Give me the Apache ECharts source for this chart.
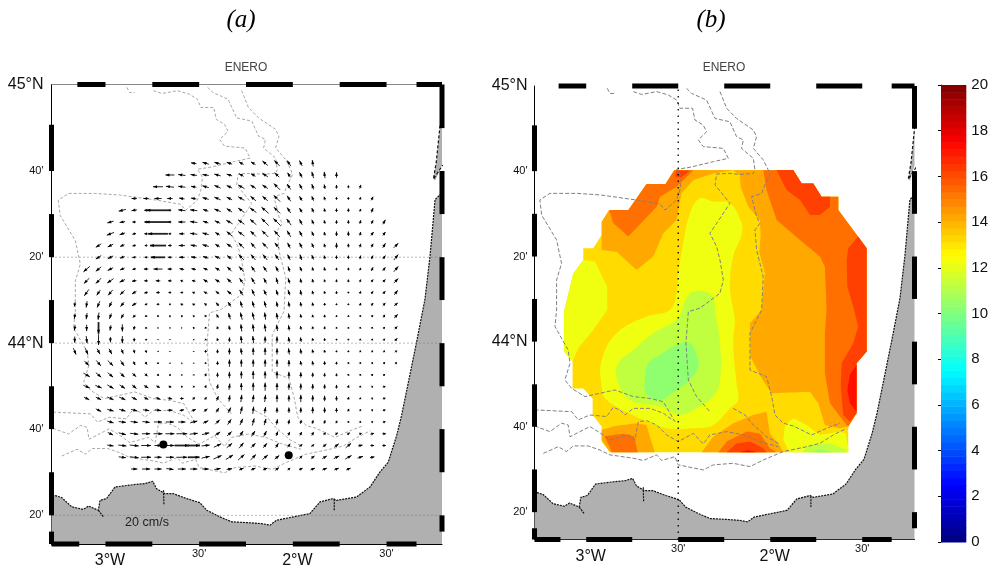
<!DOCTYPE html>
<html><head><meta charset="utf-8">
<script src="https://cdn.jsdelivr.net/npm/echarts@6/dist/echarts.min.js"></script>
<style>html,body{margin:0;padding:0;background:#fff}#c{width:991px;height:569px}</style>
</head><body><div id="c"></div>
<script>
// Axis ticks
const lonTicks=[-3,-2.5,-2,-1.5];
const lonTickLabels=['3°W',"30'",'2°W',"30'"];
const latTicks=[45,44.667,44.333,44,43.667,43.333];
const latTickLabels=['45°N',"40'","20'",'44°N',"40'","20'"];
const colorbarTicks=[0,2,4,6,8,10,12,14,16,18,20];
// Frame bars
const topBars=[[-3.15,-3],[-2.75,-2.5],[-2.25,-2],[-1.75,-1.5],[-1.34,-1.2]];
const bottomBars=[[-3.3,-3.14],[-3,-2.75],[-2.5,-2.25],[-2,-1.75],[-1.5,-1.34]];
const leftBars=[[44.846,44.667],[44.5,44.333],[44.167,44],[43.833,43.667],[43.5,43.333],[43.27,43.2]];
const rightBars=[[45.01,44.833],[44.667,44.5],[44.333,44.167],[44,43.833],[43.667,43.5],[43.333,43.27]];
// Land
const coastMain=[[-3.3,43.411],[-3.275,43.411],[-3.234,43.402],[-3.18,43.366],[-3.118,43.356],[-3.091,43.369],[-3.038,43.353],[-3.029,43.391],[-2.994,43.398],[-2.949,43.443],[-2.851,43.452],[-2.789,43.456],[-2.748,43.465],[-2.727,43.436],[-2.682,43.417],[-2.638,43.417],[-2.567,43.398],[-2.496,43.382],[-2.46,43.353],[-2.389,43.327],[-2.327,43.308],[-2.247,43.305],[-2.167,43.301],[-2.122,43.295],[-2.087,43.314],[-1.998,43.327],[-1.909,43.34],[-1.855,43.385],[-1.784,43.398],[-1.766,43.391],[-1.66,43.404],[-1.588,43.443],[-1.535,43.501],[-1.491,43.539],[-1.446,43.642],[-1.42,43.719],[-1.34,44.003],[-1.295,44.17],[-1.268,44.337],[-1.241,44.556],[-1.2,44.585]];
const coastSliver=[[-1.2,44.86],[-1.215,44.839],[-1.235,44.7],[-1.25,44.635],[-1.24,44.63],[-1.2,44.69]];
const coastInlets=[[[-3.038,43.353],[-3.011,43.327]],[[-2.69,43.43],[-2.688,43.372]],[[-1.779,43.395],[-1.779,43.353]]];
const southwestCorner=[[-1.2,43.2],[-3.3,43.2]];
// Isobaths
const isobaths=[
[[-2.886,44.991],[-2.871,44.971],[-2.844,44.971]],
[[-2.744,44.978],[-2.699,44.967],[-2.617,44.978],[-2.554,44.965],[-2.509,44.945],[-2.491,44.913],[-2.422,44.913],[-2.409,44.867],[-2.364,44.847],[-2.346,44.821],[-2.391,44.789],[-2.364,44.763],[-2.255,44.756],[-2.228,44.717],[-2.309,44.704],[-2.436,44.682],[-2.509,44.674],[-2.482,44.643],[-2.491,44.593],[-2.509,44.554],[-2.572,44.515],[-2.599,44.538],[-2.726,44.554],[-2.925,44.574],[-3.052,44.58],[-3.197,44.58],[-3.252,44.554],[-3.242,44.495],[-3.161,44.398],[-3.134,44.306],[-3.161,44.241],[-3.161,44.124],[-3.17,44.059],[-3.098,43.967],[-3.088,43.915],[-3.116,43.85],[-3.079,43.817],[-3.007,43.785],[-2.844,43.811],[-2.744,43.785],[-2.654,43.778],[-2.581,43.765],[-2.518,43.687]],
[[-2.273,44.978],[-2.237,44.913],[-2.183,44.873],[-2.092,44.828],[-2.074,44.802],[-2.092,44.756],[-2.038,44.711],[-2.011,44.672],[-2.002,44.652],[-2.029,44.613],[-2.047,44.58],[-2.101,44.567],[-2.074,44.489],[-2.056,44.463],[-2.083,44.437],[-2.074,44.358],[-2.038,44.254],[-2.047,44.124],[-2.11,44.033],[-2.11,43.889],[-2.02,43.863],[-1.992,43.785],[-1.974,43.713],[-1.929,43.681],[-1.875,43.67],[-1.775,43.635],[-1.694,43.661],[-1.621,43.681]],
[[-2.455,44.991],[-2.427,44.971],[-2.346,44.945],[-2.3,44.873],[-2.219,44.86],[-2.183,44.802],[-2.146,44.789],[-2.156,44.756],[-2.092,44.717],[-2.083,44.672],[-2.092,44.658],[-2.165,44.654],[-2.219,44.658],[-2.291,44.656],[-2.3,44.613],[-2.219,44.541],[-2.291,44.463],[-2.328,44.424],[-2.291,44.371],[-2.273,44.319],[-2.255,44.241],[-2.273,44.189],[-2.382,44.131],[-2.445,44.117],[-2.458,43.994],[-2.445,43.85],[-2.4,43.785],[-2.328,43.726]],
[[-3.28,43.733],[-3.079,43.726],[-3.043,43.694],[-2.98,43.713],[-2.889,43.707],[-2.853,43.743],[-2.817,43.733],[-2.79,43.713],[-2.744,43.739],[-2.654,43.739],[-2.581,43.72],[-2.527,43.691]],
[[-3.28,43.67],[-3.197,43.648],[-3.134,43.681],[-3.098,43.674],[-3.088,43.628],[-3.034,43.648],[-2.98,43.668],[-2.907,43.635],[-2.871,43.615],[-2.771,43.635],[-2.735,43.615],[-2.717,43.687],[-2.672,43.691],[-2.617,43.674],[-2.563,43.635],[-2.5,43.609],[-2.418,43.641],[-2.364,43.6],[-2.328,43.635],[-2.237,43.648],[-2.146,43.635],[-2.056,43.609],[-1.956,43.589]],
[[-3.233,43.563],[-3.152,43.589],[-3.107,43.57],[-3.07,43.592],[-2.989,43.592],[-2.925,43.576],[-2.871,43.557],[-2.744,43.544],[-2.69,43.535],[-2.617,43.557],[-2.59,43.535],[-2.518,43.55],[-2.5,43.518],[-2.364,43.498],[-2.309,43.518],[-2.201,43.524],[-2.11,43.511],[-2.038,43.537],[-1.929,43.57],[-1.802,43.589],[-1.73,43.602],[-1.657,43.635],[-1.585,43.661]],
[[-2.201,43.739],[-2.137,43.713],[-2.092,43.674],[-2.02,43.628],[-1.956,43.602]]
];
// Panel (a): mooring dots
const moorings=[[-2.691,43.607],[-2.022,43.566]];
const gridLatsA=[44.333,44,43.333];
const gridLonsB=[-2.5];
// Panel (a): current vectors. Each row is u,v,u,v... in cm/s; start column per row.
const arrowLonStart=-3.164, arrowLonStep=0.0635, arrowLatStart=44.697, arrowLatStep=0.04556;
const arrowRowStart=[10,8,7,5,4,3,3,2,2,1,1,1,0,0,0,0,0,1,1,1,1,2,3,3,3,4,5];
const arrowRows=[
[-6,1,-7,2,-7,2,-6,2,-5,3,-5,3,-6,5,-6,6,-4,6,-3,6,-1,7],
[-10,0,-8,1,-7,1,-7,1,-7,2,-6,2,-5,3,-5,3,-6,4,-5,5,-3,5,-3,6,-2,7,-1,7,0,6],
[-11,0,-9,1,-8,1,-6,1,-7,2,-7,3,-6,3,-7,4,-6,4,-6,4,-7,7,-4,6,-3,6,-2,6,-1,5,0,4,0,3,1,4],
[-6,0,-6,0,-8,0,-6,0,-6,1,-6,1,-7,2,-7,3,-6,3,-7,4,-6,5,-6,5,-7,7,-4,6,-3,5,-2,5,-1,4,0,3,0,3,1,3,2,4],
[-8,-2,-6,-1,-4,0,-26,0,-3,0,-8,1,-8,1,-6,2,-7,3,-6,4,-7,5,-7,5,-8,7,-7,7,-4,6,-3,5,-2,5,-1,4,0,4,0,4,1,3,2,5],
[-7,-2,-6,-1,-4,0,-4,0,-28,0,-3,0,-8,0,-8,1,-6,2,-6,3,-7,4,-7,5,-7,6,-8,8,-8,8,-5,7,-3,6,-2,5,-1,4,0,4,0,4,1,4,2,4,3,5],
[-8,-3,-6,-2,-4,-1,-4,0,-22,0,-3,0,-6,0,-8,1,-7,2,-5,3,-6,5,-7,5,-6,6,-7,7,-6,7,-4,7,-3,6,-2,5,-1,4,0,5,0,5,1,4,3,4,3,4],
[-6,-4,-6,-3,-5,-2,-4,-1,-3,0,-18,0,-4,0,-7,0,-7,1,-7,2,-5,3,-6,4,-6,6,-5,6,-6,6,-5,6,-3,6,-3,6,-2,5,-1,4,0,6,0,4,1,4,2,4,3,5,5,5],
[-6,-4,-6,-3,-5,-2,-4,-1,-3,0,-16,0,-4,0,-6,0,-6,1,-6,2,-6,3,-5,4,-6,6,-5,6,-5,6,-4,6,-3,6,-2,6,-2,5,-1,4,0,4,0,4,1,4,2,4,3,4,5,6],
[-7,-6,-6,-5,-6,-3,-5,-2,-4,-1,-5,0,-10,0,-5,0,-5,1,-5,1,-5,2,-5,3,-5,5,-5,6,-4,6,-4,6,-3,6,-2,6,-2,5,-1,4,-1,4,0,3,0,3,1,3,2,4,3,4,5,6],
[-6,-6,-6,-6,-7,-5,-6,-3,-5,-1,-4,0,-5,0,-4,0,-3,1,-4,1,-5,3,-5,3,-5,5,-4,6,-4,7,-3,6,-2,7,-2,6,-1,5,-1,4,-1,3,0,3,0,3,1,3,2,3,3,3,5,5],
[-5,-7,-4,-6,-5,-6,-5,-5,-5,-3,-4,-1,-4,0,-3,0,-3,0,-3,1,-4,2,-4,3,-5,4,-4,6,-3,7,-3,6,-2,6,-2,6,-1,6,-1,4,-1,3,0,3,0,2,1,3,2,3,3,3,4,5],
[-1,-5,-1,-7,-3,-7,-3,-6,-4,-5,-5,-3,-3,-1,-3,0,-2,0,-3,1,-3,1,-3,2,-3,4,-3,5,-2,7,-2,7,-2,7,-1,6,-1,6,-1,5,-1,4,0,3,0,2,0,2,1,3,2,3,3,3,4,3],
[-1,-6,-1,-7,-1,-8,-2,-6,-3,-5,-3,-3,-2,-2,-2,-1,-2,0,-2,1,-2,1,-2,2,-2,4,-2,7,-2,8,-2,8,-1,8,-1,7,-1,6,-1,4,-1,3,0,3,0,2,0,2,1,2,2,2,2,3,4,4],
[-1,-6,0,-7,0,-13,-1,-6,0,-8,-1,-4,-1,-2,-1,-1,-1,-1,-1,0,-2,1,-1,2,-1,3,-1,5,-1,8,-1,8,-1,8,-1,7,-1,6,-1,4,-1,3,0,3,0,2,0,2,1,2,1,2,2,2,3,3],
[0,-7,1,-8,0,-12,0,-6,0,-8,0,-4,0,-2,0,-1,0,-1,0,0,-1,1,-1,2,-1,3,0,5,-1,8,-1,8,0,7,0,7,-1,6,-1,5,-1,3,0,3,0,2,0,2,1,2,1,2,2,2,3,3],
[3,-7,3,-7,3,-6,3,-6,2,-5,1,-4,1,-3,1,-1,0,-1,0,0,0,1,0,3,0,4,0,7,-1,7,0,8,0,8,0,7,-1,7,-1,6,-1,4,-1,3,0,2,0,2,1,2,1,2,1,2,2,2],
[5,-5,5,-6,6,-6,4,-6,2,-4,2,-3,1,-2,1,-1,1,0,0,1,0,2,0,4,0,8,0,8,0,8,0,8,0,8,0,7,-1,5,-1,5,0,4,0,3,1,2,1,2,1,2,2,2,2,2],
[7,-4,6,-5,6,-5,5,-5,4,-4,3,-3,2,-2,2,-1,1,-1,1,1,1,3,0,5,0,7,0,8,0,9,0,8,0,8,0,7,0,6,0,5,0,4,0,3,1,2,1,2,2,2,2,2],
[7,-3,7,-3,7,-4,6,-4,5,-4,5,-3,4,-2,3,-1,2,0,2,1,1,3,1,5,1,7,0,8,0,9,0,9,0,8,0,7,0,7,0,6,0,5,0,4,1,3,1,2,2,1,3,1],
[6,-3,6,-3,7,-3,7,-3,6,-3,5,-2,5,-2,5,-1,4,0,3,2,2,3,2,5,1,7,1,8,1,8,1,8,0,8,0,7,0,8,0,7,0,6,0,5,1,3,1,2,2,1,3,1],
[6,-3,7,-2,7,-2,7,-2,7,-1,7,-1,6,0,5,1,5,2,4,3,3,5,3,6,2,8,1,8,1,7,0,6,0,6,0,6,0,7,0,6,0,5,1,3,1,2,2,1,3,1],
[7,-2,8,-1,8,-1,8,-1,9,0,9,0,8,0,8,2,6,3,5,5,4,6,3,7,2,8,2,7,1,6,1,5,1,4,1,4,1,4,1,3,1,2,1,2,2,1,3,1],
[6,-3,8,-2,9,-1,9,0,10,0,10,0,12,0,9,1,8,2,6,4,5,5,4,6,4,6,3,6,2,5,2,4,2,4,2,4,2,3,3,2,3,2,3,1,4,1,4,0],
[7,-1,9,-1,10,-1,11,0,8,0,10,0,16,0,14,0,9,1,8,4,6,5,5,6,5,5,4,5,3,5,3,4,3,3,3,3,4,3,5,4,6,5,5,1,4,0,4,0],
[8,-1,10,-1,11,0,8,0,9,0,12,0,13,0,9,2,9,4,8,5,7,6,6,6,6,5,5,4,3,3,3,3,4,3,5,3,6,3,7,4,6,2,5,1],
[7,0,9,0,8,0,8,-1,9,0,8,0,7,0,7,1,6,1,5,2,5,2,5,2,4,3,3,2,4,2,5,2,5,2,5,2,5,2]
];
// Panel (b): filled contour regions, painted in order (level in the colourbar's units)
const outlineLevel=13.2;
const outlineRegion=[[-2.521,44.671],[-1.875,44.671],[-1.829,44.619],[-1.766,44.619],[-1.721,44.567],[-1.63,44.567],[-1.63,44.515],[-1.476,44.365],[-1.476,43.961],[-1.531,43.915],[-1.531,43.72],[-1.576,43.668],[-1.576,43.567],[-2.871,43.567],[-2.916,43.609],[-2.916,43.668],[-2.965,43.713],[-2.965,43.778],[-3.016,43.817],[-3.074,43.817],[-3.074,43.922],[-3.121,43.961],[-3.121,44.117],[-3.07,44.267],[-3.016,44.319],[-3.016,44.365],[-2.962,44.365],[-2.916,44.417],[-2.916,44.469],[-2.875,44.515],[-2.771,44.515],[-2.672,44.617],[-2.569,44.617]];
const eastTail=[[-1.576,43.668],[-1.531,43.72],[-1.531,43.915],[-1.476,43.961],[-1.476,44.365],[-1.63,44.515],[-1.63,44.567],[-1.721,44.567],[-1.766,44.619],[-1.829,44.619],[-1.875,44.671]];
const region14East=[[-2.201,44.67],[-2.165,44.652],[-2.161,44.606],[-2.119,44.528],[-2.056,44.476],[-2.052,44.411],[-2.06,44.352],[-2.029,44.267],[-2.047,44.124],[-2.11,44.072],[-2.107,43.941],[-2.047,43.857],[-1.992,43.798],[-1.784,43.804],[-1.739,43.759],[-1.703,43.674],[-1.621,43.661]].concat(eastTail);
const region15East=[[-2.038,44.67],[-2.02,44.593],[-2.002,44.554],[-1.965,44.476],[-1.838,44.398],[-1.73,44.333],[-1.703,44.293],[-1.694,44.124],[-1.703,44.033],[-1.703,43.876],[-1.675,43.759],[-1.621,43.707],[-1.585,43.674]].concat(eastTail);
const region16NorthEast=[[-1.965,44.67],[-1.875,44.671],[-1.829,44.619],[-1.766,44.619],[-1.721,44.567],[-1.675,44.567],[-1.675,44.528],[-1.73,44.495],[-1.784,44.495],[-1.838,44.554],[-1.911,44.593]];
const region16East=[[-1.522,44.411],[-1.476,44.365],[-1.476,43.961],[-1.531,43.915],[-1.531,43.72],[-1.567,43.687],[-1.603,43.713],[-1.617,43.824],[-1.612,43.915],[-1.549,43.994],[-1.522,44.059],[-1.549,44.137],[-1.581,44.215],[-1.585,44.319],[-1.576,44.365]];
const region17East=[[-1.531,43.909],[-1.567,43.87],[-1.581,43.811],[-1.567,43.759],[-1.531,43.726]];
const region14NorthWest=[[-2.916,44.469],[-2.875,44.515],[-2.771,44.515],[-2.672,44.617],[-2.569,44.617],[-2.521,44.671],[-2.201,44.67],[-2.309,44.658],[-2.418,44.632],[-2.482,44.58],[-2.509,44.476],[-2.581,44.424],[-2.636,44.333],[-2.726,44.28],[-2.835,44.352],[-2.916,44.358]];
const region15NorthWest=[[-2.875,44.515],[-2.771,44.515],[-2.672,44.617],[-2.569,44.617],[-2.521,44.671],[-2.418,44.669],[-2.509,44.606],[-2.599,44.567],[-2.617,44.528],[-2.771,44.411],[-2.853,44.463]];
const region16North=[[-2.509,44.669],[-2.436,44.669],[-2.482,44.643],[-2.518,44.645]];
const region12West=[[-3.116,44.124],[-3.07,44.267],[-3.016,44.319],[-2.953,44.313],[-2.886,44.215],[-2.886,44.124],[-2.962,44.046],[-3.043,43.974],[-3.074,43.922],[-3.121,43.961],[-3.121,44.117]];
const region12Center=[[-2.382,44.561],[-2.309,44.548],[-2.219,44.541],[-2.156,44.463],[-2.156,44.417],[-2.201,44.333],[-2.219,44.215],[-2.201,44.124],[-2.192,44.085],[-2.201,43.994],[-2.183,43.837],[-2.174,43.772],[-2.219,43.739],[-2.309,43.674],[-2.418,43.661],[-2.563,43.661],[-2.69,43.694],[-2.889,43.772],[-2.916,43.824],[-2.916,43.928],[-2.835,44.033],[-2.672,44.098],[-2.545,44.124],[-2.509,44.189],[-2.5,44.267],[-2.476,44.371],[-2.436,44.502]];
const region11Center=[[-2.464,44.157],[-2.427,44.193],[-2.346,44.195],[-2.309,44.169],[-2.3,44.124],[-2.273,43.994],[-2.273,43.85],[-2.309,43.785],[-2.4,43.739],[-2.491,43.713],[-2.599,43.746],[-2.762,43.772],[-2.831,43.85],[-2.826,43.915],[-2.744,43.967],[-2.636,44.033],[-2.509,44.085],[-2.473,44.137]];
const region10Center=[[-2.509,43.987],[-2.436,43.994],[-2.396,43.941],[-2.391,43.902],[-2.436,43.85],[-2.509,43.811],[-2.599,43.772],[-2.672,43.798],[-2.681,43.85],[-2.663,43.915],[-2.599,43.948]];
const region14SouthWest=[[-2.916,43.655],[-2.844,43.67],[-2.726,43.681],[-2.672,43.674],[-2.654,43.628],[-2.627,43.567],[-2.871,43.567],[-2.916,43.615]];
const region15SouthWest=[[-2.9,43.63],[-2.8,43.64],[-2.74,43.63],[-2.72,43.567],[-2.86,43.567]];
const region14South=[[-2.373,43.567],[-2.309,43.628],[-2.201,43.681],[-2.092,43.713],[-2.02,43.726],[-2.002,43.641],[-1.956,43.602],[-1.929,43.567]];
const region15South=[[-2.282,43.567],[-2.237,43.609],[-2.128,43.648],[-2.056,43.641],[-2.002,43.583],[-1.965,43.567]];
const region16South=[[-2.237,43.567],[-2.183,43.602],[-2.11,43.609],[-2.038,43.583],[-2.02,43.567]];
const region17South=[[-2.165,43.567],[-2.119,43.576],[-2.074,43.567]];
const region12SouthEast=[[-1.92,43.674],[-1.875,43.7],[-1.802,43.674],[-1.73,43.635],[-1.621,43.648],[-1.59,43.64],[-1.576,43.589],[-1.576,43.567],[-1.893,43.567],[-1.929,43.615]];
const region11SouthEast=[[-1.829,43.567],[-1.784,43.596],[-1.675,43.602],[-1.585,43.576],[-1.585,43.567]];
const region10SouthEast=[[-1.784,43.567],[-1.73,43.579],[-1.657,43.567]];
const contourRegions=[
[outlineLevel,outlineRegion],[14.2,region14East],[15.3,region15East],[16.25,region16NorthEast],[16.25,region16East],[17.2,region17East],
[14.2,region14NorthWest],[15.3,region15NorthWest],[16.25,region16North],[12.2,region12West],[12.2,region12Center,0.4],[11.25,region11Center,0.4],[10.3,region10Center,0.4],
[14.2,region14SouthWest],[15.3,region15SouthWest],[14.2,region14South],[15.3,region15South],[16.25,region16South],[17.2,region17South],
[12.2,region12SouthEast],[11.25,region11SouthEast],[10.3,region10SouthEast]];

const COLORBAR_STEPS=64;
function clamp(v){return Math.max(0,Math.min(1,v));}
function jet(t){
  const r=clamp(1.5-Math.abs(4*t-3)),g=clamp(1.5-Math.abs(4*t-2)),b=clamp(1.5-Math.abs(4*t-1));
  return 'rgb('+Math.round(r*255)+','+Math.round(g*255)+','+Math.round(b*255)+')';
}
const fontSans='"Liberation Sans",Arial,sans-serif';
const chart=echarts.init(document.getElementById('c'),null,{renderer:'canvas'});

const landPolygons=[coastMain.concat(southwestCorner),coastSliver];
function polygonSeries(idx,polys,fillOf,z){
  return {type:'custom',xAxisIndex:idx,yAxisIndex:idx,z:z,silent:true,animation:false,clip:true,
    data:polys.map((p,i)=>[i]),encode:{x:-1,y:-1},
    renderItem:function(params,api){
      const poly=polys[params.dataIndex];
      const pts=echarts.graphic.clipPointsByRect(poly.points.map(c=>api.coord(c)),params.coordSys);
      return {type:'polygon',shape:{points:pts,smooth:poly.smooth||0},style:{fill:fillOf(poly)}};
    }};
}
function landSeries(idx){
  const polys=landPolygons.map(p=>({points:p}));
  return polygonSeries(idx,polys,()=>'#b0b0b0',2);
}
function lineSeries(idx,pts,color,width,dash,z){
  return {type:'line',xAxisIndex:idx,yAxisIndex:idx,data:pts,symbol:'none',silent:true,animation:false,z:z,clip:true,
    lineStyle:{color:color,width:width,type:dash}};
}
function barSeries(idx,bars,width,color){
  return {type:'custom',xAxisIndex:idx,yAxisIndex:idx,z:9,silent:true,animation:false,clip:false,
    data:bars.map((b,i)=>[i]),encode:{x:-1,y:-1},
    renderItem:function(params,api){
      const b=bars[params.dataIndex];
      const xr=api.coord([Math.max(b[0],axisRange[idx].x[0]),Math.max(b[1],axisRange[idx].y[0])]);
      const yr=api.coord([Math.min(b[2],axisRange[idx].x[1]),Math.min(b[3],axisRange[idx].y[1])]);
      return {type:'line',shape:{x1:xr[0],y1:xr[1],x2:yr[0],y2:yr[1]},style:{stroke:color,lineWidth:width,lineCap:'butt'}};
    }};
}
const axisRange=[{x:[-3.288,-1.204],y:[43.222,45.002]},{x:[-3.281,-1.216],y:[43.226,45.0]}];
function frameSeries(idx){
  const xr=axisRange[idx].x,yr=axisRange[idx].y;
  const bars=[];
  topBars.forEach(b=>bars.push([b[0],yr[1],b[1],yr[1]]));
  bottomBars.forEach(b=>bars.push([b[0],yr[0],b[1],yr[0]]));
  leftBars.forEach(b=>bars.push([xr[0],b[1],xr[0],b[0]]));
  rightBars.forEach(b=>bars.push([xr[1],b[1],xr[1],b[0]]));
  return barSeries(idx,bars,5,'#000');
}
function lonAxis(idx){
  return {type:'value',gridIndex:idx,min:axisRange[idx].x[0],max:axisRange[idx].x[1],splitLine:{show:false},
    axisLine:{show:true,onZero:false,lineStyle:{color:'#000',width:1}},axisTick:{show:false},
    axisLabel:{customValues:lonTicks,margin:4,color:'#111',fontFamily:fontSans,
      formatter:v=>{const s=lonTickLabels[lonTicks.indexOf(v)]||'';return s.indexOf('W')>=0?'{big|'+s+'}':'{small|'+s+'}';},
      rich:{big:{fontSize:16,fontFamily:fontSans,color:'#111',padding:[5,0,0,9]},small:{fontSize:11,fontFamily:fontSans,color:'#111'}}}};
}
function latAxis(idx){
  return {type:'value',gridIndex:idx,min:axisRange[idx].y[0],max:axisRange[idx].y[1],splitLine:{show:false},
    axisLine:{show:true,onZero:false,lineStyle:{color:'#000',width:1}},axisTick:{show:false},
    axisLabel:{customValues:latTicks,margin:idx===0?8:7,color:'#111',fontFamily:fontSans,
      formatter:v=>{const s=latTickLabels[latTicks.indexOf(v)]||'';return s.indexOf('N')>=0?'{big|'+s+'}':'{small|'+s+'}';},
      rich:{big:{fontSize:16,fontFamily:fontSans,color:'#111'},small:{fontSize:11,fontFamily:fontSans,color:'#111'}}}};
}
const arrowData=[];
arrowRows.forEach((row,r)=>{
  for(let k=0;k<row.length;k+=2){
    const c=arrowRowStart[r]+k/2;
    arrowData.push([arrowLonStart+c*arrowLonStep,arrowLatStart-r*arrowLatStep,row[k],row[k+1]]);
  }
});
const ARROW_PX_PER_CM=0.9;
const series=[];
// Panel (a)
series.push(landSeries(0));
series.push(lineSeries(0,coastMain,'#111',1.2,[2,1],3));
series.push(lineSeries(0,coastSliver,'#111',1.2,[3,2],3));
coastInlets.forEach(p=>series.push(lineSeries(0,p,'#111',1.2,[2,1],3)));
gridLatsA.forEach(lat=>series.push(lineSeries(0,[[axisRange[0].x[0],lat],[axisRange[0].x[1],lat]],'#777',1,[1,3],4)));
isobaths.forEach(p=>series.push(lineSeries(0,p,'#a8a8a8',1,[3,2],4)));
series.push({type:'custom',xAxisIndex:0,yAxisIndex:0,z:5,silent:true,animation:false,data:arrowData,encode:{x:0,y:1},
  renderItem:function(params,api){
    const c=api.coord([api.value(0),api.value(1)]);
    const u=api.value(2)*ARROW_PX_PER_CM,v=api.value(3)*ARROW_PX_PER_CM;
    const len=Math.sqrt(u*u+v*v)||1;
    const tx=c[0]-u/2,ty=c[1]+v/2,hx=c[0]+u/2,hy=c[1]-v/2;
    const ux=u/len,uy=-v/len,h=Math.min(4,len*0.7),w=1.5;
    return {type:'group',children:[
      {type:'line',shape:{x1:tx,y1:ty,x2:hx,y2:hy},style:{stroke:'#222',lineWidth:len>11?1.8:1}},
      {type:'polygon',shape:{points:[[hx,hy],[hx-ux*h-uy*w,hy-uy*h+ux*w],[hx-ux*h+uy*w,hy-uy*h-ux*w]]},style:{fill:'#000'}}
    ]};
  }});
series.push({type:'scatter',xAxisIndex:0,yAxisIndex:0,z:6,silent:true,animation:false,data:moorings,symbolSize:8,itemStyle:{color:'#000',opacity:1}});
series.push(frameSeries(0));
series.push({type:'custom',xAxisIndex:0,yAxisIndex:0,z:8,silent:true,animation:false,clip:false,data:[[0]],encode:{x:-1,y:-1},
  renderItem:function(p,api){const a=api.coord([axisRange[0].x[0],axisRange[0].y[1]]),b=api.coord([axisRange[0].x[1],axisRange[0].y[1]]);
    return {type:'line',shape:{x1:a[0],y1:a[1],x2:b[0],y2:b[1]},style:{stroke:'#888',lineWidth:1}};}});
// Panel (b)
series.push(landSeries(1));
series.push(lineSeries(1,coastMain,'#111',1.2,[2,1],3));
series.push(lineSeries(1,coastSliver,'#111',1.2,[3,2],3));
coastInlets.forEach(p=>series.push(lineSeries(1,p,'#111',1.2,[2,1],3)));
series.push(polygonSeries(1,contourRegions.map(r=>({level:r[0],points:r[1],smooth:r[2]})),p=>jet(p.level/20),3));
isobaths.forEach(p=>series.push(lineSeries(1,p,'#808080',1,[4,2],4)));
gridLonsB.forEach(lon=>series.push(lineSeries(1,[[lon,axisRange[1].y[0]],[lon,axisRange[1].y[1]]],'#000',1.3,[1.5,5],5)));
series.push(frameSeries(1));
// Colourbar
const barLevels=[];
for(let i=0;i<COLORBAR_STEPS;i++)barLevels.push([(i)*20/COLORBAR_STEPS,(i+1)*20/COLORBAR_STEPS]);
series.push({type:'custom',xAxisIndex:2,yAxisIndex:2,z:3,silent:true,animation:false,data:barLevels.map((l,i)=>[i]),encode:{x:-1,y:-1},
  renderItem:function(params,api){
    const l=barLevels[params.dataIndex];
    const a=api.coord([0,l[1]]),b=api.coord([1,l[0]]);
    return {type:'rect',shape:{x:a[0],y:a[1],width:b[0]-a[0],height:b[1]-a[1]+0.5},style:{fill:jet((l[0]+l[1])/40)}};
  }});

chart.setOption({
  animation:false,backgroundColor:'#fff',
  grid:[{left:51.5,top:84.5,width:390.5,height:461},{left:534.5,top:86,width:380,height:453.5},{left:941,top:85,width:27,height:457}],
  xAxis:[lonAxis(0),lonAxis(1),{type:'value',gridIndex:2,min:0,max:1,show:false}],
  yAxis:[latAxis(0),latAxis(1),{type:'value',gridIndex:2,min:0,max:20,interval:2,position:'right',splitLine:{show:false},
    axisLine:{show:true,lineStyle:{color:'#444',width:1}},
    axisTick:{show:true,inside:true,length:3,lineStyle:{color:'#000'}},
    axisLabel:{customValues:colorbarTicks,margin:5,fontSize:15,color:'#111',fontFamily:fontSans}}],
  series:series,
  graphic:[
    {type:'text',x:241,y:20,style:{text:'(a)',font:'italic 25px "Liberation Serif",serif',fill:'#000',textAlign:'center',textVerticalAlign:'middle'}},
    {type:'text',x:711,y:20,style:{text:'(b)',font:'italic 25px "Liberation Serif",serif',fill:'#000',textAlign:'center',textVerticalAlign:'middle'}},
    {type:'text',x:246,y:68,style:{text:'ENERO',font:'12px "Liberation Sans",sans-serif',fill:'#444',textAlign:'center',textVerticalAlign:'middle'}},
    {type:'text',x:724,y:68,style:{text:'ENERO',font:'12px "Liberation Sans",sans-serif',fill:'#444',textAlign:'center',textVerticalAlign:'middle'}},
    {type:'text',x:147,y:523,z:20,style:{text:'20 cm/s',font:'12.5px "Liberation Sans",sans-serif',fill:'#222',textAlign:'center',textVerticalAlign:'middle'}}
  ]
});
</script></body></html>
